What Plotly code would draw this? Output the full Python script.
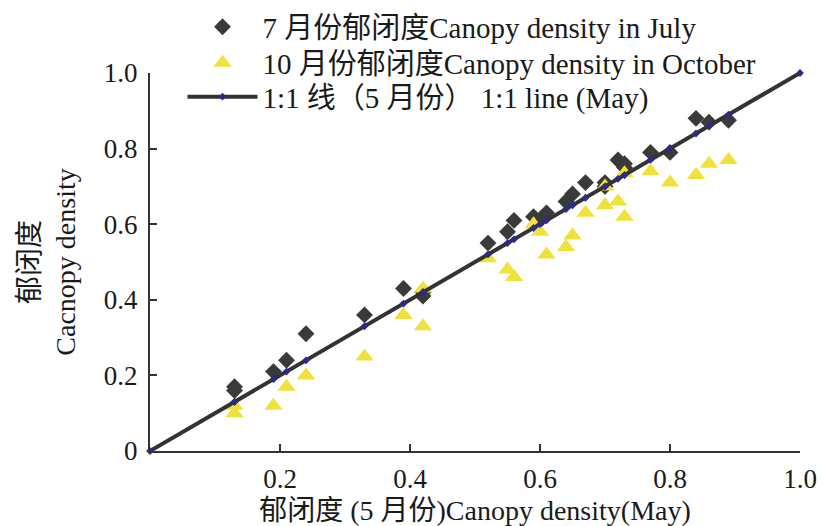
import plotly.graph_objects as go

may = [0.13, 0.13, 0.19, 0.21, 0.24, 0.33, 0.39, 0.42, 0.42, 0.52, 0.55, 0.56, 0.59, 0.60,
       0.61, 0.64, 0.65, 0.67, 0.70, 0.70, 0.72, 0.73, 0.73, 0.77, 0.80, 0.84, 0.86, 0.89]
july = [0.17, 0.16, 0.21, 0.24, 0.31, 0.36, 0.43, 0.41, 0.42, 0.55, 0.58, 0.61, 0.62, 0.61,
        0.63, 0.66, 0.68, 0.71, 0.70, 0.71, 0.77, 0.76, 0.75, 0.79, 0.79, 0.88, 0.87, 0.875]
october = [0.12, 0.10, 0.12, 0.17, 0.20, 0.25, 0.36, 0.43, 0.33, 0.51, 0.48, 0.46, 0.60, 0.58,
           0.52, 0.54, 0.57, 0.63, 0.65, 0.70, 0.66, 0.62, 0.735, 0.74, 0.71, 0.73, 0.76, 0.77]
line_x = [0.0] + may + [1.0]

x_ticks = [0.2, 0.4, 0.6, 0.8, 1.0]
x_labels = ["0.2", "0.4", "0.6", "0.8", "1.0"]
y_ticks = [0.0, 0.2, 0.4, 0.6, 0.8, 1.0]
y_labels = ["0", "0.2", "0.4", "0.6", "0.8", "1.0"]

names = ["7 月份郁闭度Canopy density in July",
         "10 月份郁闭度Canopy density in October",
         "1:1 线（5 月份） 1:1 line (May)"]

FONT = "Liberation Serif, Noto Sans CJK SC, serif"

fig = go.Figure()
fig.add_trace(go.Scatter(x=may, y=july, mode="markers", name=names[0], legend="legend",
                         marker=dict(symbol="diamond", size=13, color="#3a3a3a"),
                         cliponaxis=False))
fig.add_trace(go.Scatter(x=may, y=october, mode="markers", name=names[1], legend="legend2",
                         marker=dict(symbol="triangle-up", size=16, color="#f0e23c"),
                         cliponaxis=False))
fig.add_trace(go.Scatter(x=line_x, y=line_x, mode="lines+markers", name=names[2],
                         legend="legend3",
                         line=dict(color="#333333", width=4),
                         marker=dict(symbol="diamond", size=6, color="#2b2b8c"),
                         cliponaxis=False))

def leg(y):
    return dict(x=0.05, y=y, xanchor="left", yanchor="middle",
                bgcolor="rgba(0,0,0,0)", font=dict(size=29, family=FONT),
                itemwidth=70, tracegroupgap=0)

fig.update_layout(
    width=823, height=526,
    margin=dict(l=150, r=23, t=73, b=75, autoexpand=False),
    paper_bgcolor="white", plot_bgcolor="white",
    font=dict(family=FONT, size=27, color="#1a1a1a"),
    showlegend=True,
    legend=leg(1.122),
    legend2=leg(1.027),
    legend3=leg(0.937),
    xaxis=dict(range=[0, 1], tickvals=x_ticks, ticktext=x_labels, automargin=False,
               showgrid=False, zeroline=False, showline=True, linecolor="#333333",
               linewidth=2, ticks="inside", ticklen=7, tickwidth=2, tickcolor="#333333",
               ticklabelstandoff=3,
               title=dict(text="郁闭度 (5 月份)Canopy density(May)", standoff=20,
                          font=dict(size=28))),
    yaxis=dict(range=[0, 1], tickvals=y_ticks, ticktext=y_labels, automargin=False,
               showgrid=False, zeroline=False, showline=True, linecolor="#333333",
               linewidth=2, ticks="inside", ticklen=7, tickwidth=2, tickcolor="#333333",
               ticklabelstandoff=5,
               title=dict(text="郁闭度<br>Cacnopy density", standoff=20,
                          font=dict(size=28))),
)

fig.write_html("out.html")
